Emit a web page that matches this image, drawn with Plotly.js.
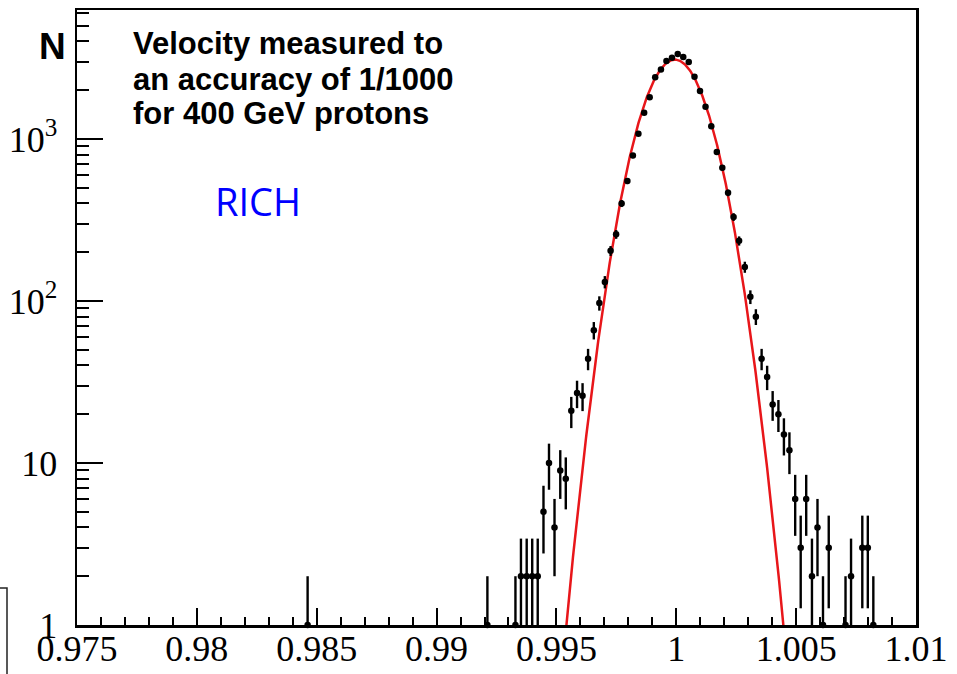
<!DOCTYPE html>
<html>
<head>
<meta charset="utf-8">
<script src="https://cdn.plot.ly/plotly-3.0.1.min.js"></script>
<style>
  html, body { margin: 0; padding: 0; background: #ffffff; }
  #chart { width: 957px; height: 674px; }
</style>
</head>
<body>
<div id="chart"></div>
<script>
// Measured velocity (beta) bin centres and counts per bin
const beta = [0.98462, 0.99212,
  0.99329, 0.99352, 0.99376, 0.99399, 0.99422, 0.99446, 0.99469, 0.99492, 0.99516, 0.99539,
  0.99562, 0.99586, 0.99609, 0.99632, 0.99656, 0.99679, 0.99702, 0.99726, 0.99749, 0.99772,
  0.99796, 0.99819, 0.99842, 0.99866, 0.99889, 0.99912, 0.99936, 0.99959, 0.99982, 1.00006,
  1.00029, 1.00052, 1.00076, 1.00099, 1.00122, 1.00146, 1.00169, 1.00192, 1.00216, 1.00239,
  1.00262, 1.00286, 1.00309, 1.00332, 1.00356, 1.00379, 1.00402, 1.00426, 1.00449, 1.00472,
  1.00496, 1.00519, 1.00542, 1.00566, 1.00589, 1.00612, 1.00636,
  1.00706, 1.00729, 1.00776, 1.00799, 1.00822];
const counts = [1, 1,
  1, 2, 2, 2, 2, 5, 10, 4, 9, 8,
  21, 27, 26, 44, 66, 97, 131, 204, 258, 400,
  550, 790, 1075, 1450, 1810, 2400, 2680, 3030, 3170, 3350,
  3200, 2990, 2420, 1980, 1580, 1200, 830, 665, 465, 330,
  235, 162, 106, 80, 44, 34, 23, 20, 15, 12,
  6, 3, 6, 2, 4, 1, 3,
  1, 2, 3, 3, 1];

// Gaussian fit parameters
const fitConstant = 3090;
const fitMean = 0.99994;
const fitSigma = 0.00113;
const fitRange = [0.99515, 1.00470];

// Axis tick labels
const xTickVals = [0.975, 0.98, 0.985, 0.99, 0.995, 1, 1.005, 1.01];
const xTickText = ['0.975', '0.98', '0.985', '0.99', '0.995', '1', '1.005', '1.01'];
const yTickVals = [1, 10, 100, 1000];
const yTickText = ['1', '10', '10<sup>2</sup>', '10<sup>3</sup>'];
const yMinorVals = [2,3,4,5,6,7,8,9,20,30,40,50,60,70,80,90,200,300,400,500,600,700,800,900,2000,3000,4000,5000,6000];

// Poisson error bars
const errPlus = counts.map(n => Math.sqrt(n));
const errMinus = counts.map(n => n > 1 ? Math.sqrt(n) : 0);

// Fit curve
const fitX = [], fitY = [];
for (let x = fitRange[0]; x <= fitRange[1] + 1e-9; x += 0.00002) {
  fitX.push(x);
  fitY.push(fitConstant * Math.exp(-0.5 * Math.pow((x - fitMean) / fitSigma, 2)));
}

const W = 957, H = 674;
const L = 77, R = 916, T = 10, B = 625;
const px = v => (v - L) / (R - L);
const py = v => (B - v) / (B - T);

const traces = [
  {
    x: fitX, y: fitY, type: 'scatter', mode: 'lines',
    line: { color: '#e8161a', width: 2.5 },
    hoverinfo: 'skip', showlegend: false
  },
  {
    x: beta, y: counts, type: 'scatter', mode: 'markers',
    marker: { color: '#000000', size: 6.5, symbol: 'circle' },
    error_y: { type: 'data', symmetric: false, array: errPlus, arrayminus: errMinus,
               color: '#000000', thickness: 2.4, width: 0 },
    cliponaxis: false, showlegend: false
  }
];

const tickFont = { family: 'Liberation Serif', size: 36, color: '#000000' };

const layout = {
  width: W, height: H,
  margin: { l: L, r: W - R, t: T, b: H - B, pad: 0 },
  paper_bgcolor: '#ffffff', plot_bgcolor: '#ffffff',
  showlegend: false,
  xaxis: {
    range: [0.975, 1.01],
    tickmode: 'array', tickvals: xTickVals, ticktext: xTickText,
    ticks: 'inside', ticklen: 17, tickwidth: 2, tickcolor: '#000000',
    minor: { tick0: 0.975, dtick: 0.001, ticks: 'inside', ticklen: 8, tickwidth: 2, tickcolor: '#000000', showgrid: false },
    showline: true, linecolor: '#000000', linewidth: 2.5, mirror: true,
    showgrid: false, zeroline: false,
    tickfont: tickFont, ticklabelstandoff: -10
  },
  yaxis: {
    type: 'log', range: [0, 3.796],
    tickmode: 'array', tickvals: yTickVals, ticktext: yTickText,
    ticks: 'inside', ticklen: 26, tickwidth: 2, tickcolor: '#000000',
    minor: { tickmode: 'array', tickvals: yMinorVals, ticks: 'inside', ticklen: 12, tickwidth: 2, tickcolor: '#000000', showgrid: false },
    showline: true, linecolor: '#000000', linewidth: 2.5, mirror: true,
    showgrid: false, zeroline: false,
    tickfont: tickFont, ticklabelstandoff: 10
  },
  annotations: [
    { xref: 'paper', yref: 'paper', x: px(52), y: py(46), xanchor: 'center', yanchor: 'middle',
      text: '<b>N</b>', showarrow: false,
      font: { family: 'Liberation Sans, Arial, sans-serif', size: 37, color: '#000000' } },
    { xref: 'paper', yref: 'paper', x: px(131), y: py(43), xanchor: 'left', yanchor: 'middle',
      text: '<b>Velocity measured to</b>', showarrow: false,
      font: { family: 'Liberation Sans, Arial, sans-serif', size: 31, color: '#000000' } },
    { xref: 'paper', yref: 'paper', x: px(131), y: py(79), xanchor: 'left', yanchor: 'middle',
      text: '<b>an accuracy of 1/1000</b>', showarrow: false,
      font: { family: 'Liberation Sans, Arial, sans-serif', size: 31, color: '#000000' } },
    { xref: 'paper', yref: 'paper', x: px(131), y: py(114), xanchor: 'left', yanchor: 'middle',
      text: '<b>for 400 GeV protons</b>', showarrow: false,
      font: { family: 'Liberation Sans, Arial, sans-serif', size: 31, color: '#000000' } },
    { xref: 'paper', yref: 'paper', x: px(258), y: py(201), xanchor: 'center', yanchor: 'middle',
      text: 'RICH', showarrow: false,
      font: { family: 'Open Sans, Noto Sans, sans-serif', size: 38, color: '#0000ff' } }
  ],
  shapes: [
    { type: 'rect', xref: 'paper', yref: 'paper',
      x0: px(-20), x1: px(7), y0: py(700), y1: py(588),
      line: { color: '#222222', width: 1.5 }, fillcolor: 'rgba(0,0,0,0)' }
  ]
};

Plotly.newPlot('chart', traces, layout, { staticPlot: true, displayModeBar: false });
</script>
</body>
</html>
